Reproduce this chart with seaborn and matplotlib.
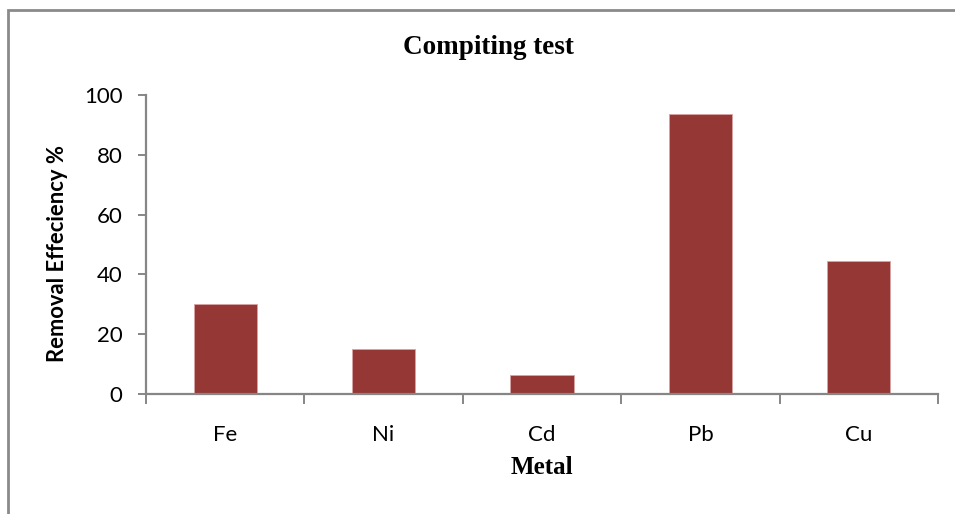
import matplotlib
matplotlib.use("Agg")
import matplotlib.pyplot as plt
from matplotlib.patches import Rectangle
from matplotlib.ticker import FixedLocator
import seaborn as sns
import pandas as pd

metals = ["Fe", "Ni", "Cd", "Pb", "Cu"]
efficiency = [30.0, 15.0, 6.4, 93.6, 44.4]
y_ticks = [0, 20, 40, 60, 80, 100]

sns.set_theme(style="white")
plt.rcParams["font.family"] = ["Lato", "DejaVu Sans"]
plt.rcParams.update({"text.color": "black", "axes.labelcolor": "black",
                     "xtick.color": "black", "ytick.color": "black"})

df = pd.DataFrame({"Metal": metals, "Removal": efficiency})

fig = plt.figure(figsize=(9.55, 5.14), dpi=100)
ax = fig.add_axes([146 / 955, 1 - 394 / 514, (938 - 146) / 955, (394 - 95) / 514])

sns.barplot(data=df, x="Metal", y="Removal", color="#953735", width=0.4,
            saturation=1, edgecolor="#d9a3a3", linewidth=0.6, ax=ax)

grey = "#868686"
ax.set_ylim(0, 100)
ax.set_xlim(-0.5, len(metals) - 0.5)
ax.set_yticks(y_ticks)
ax.set_yticklabels([str(t) for t in y_ticks])
for s in ["top", "right"]:
    ax.spines[s].set_visible(False)
for s in ["left", "bottom"]:
    ax.spines[s].set_color(grey)
    ax.spines[s].set_linewidth(1.6)

ax.tick_params(axis="y", which="major", direction="out", length=6, width=1.4,
               color=grey, labelcolor="black", labelsize=16, pad=11, left=True)
ax.tick_params(axis="x", which="major", length=0, labelsize=16, labelcolor="black",
               pad=22, bottom=True)
ax.xaxis.set_minor_locator(FixedLocator([i - 0.5 for i in range(len(metals) + 1)]))
ax.tick_params(axis="x", which="minor", direction="out", length=7, width=1.4,
               color=grey, bottom=True)

ax.set_ylabel("Removal Effeciency %", fontsize=15.8, fontweight="bold",
              color="black", labelpad=11)
ax.yaxis.label.set_y(0.47)
ax.set_xlabel("Metal", fontsize=18, fontweight="bold", color="black",
              family=["Liberation Serif", "DejaVu Serif"], labelpad=8)
fig.text(0.511, 1 - 47 / 514, "Compiting test", ha="center", va="center",
         fontsize=19.5, fontweight="bold", color="black",
         family=["Liberation Serif", "DejaVu Serif"])

# outer chart frame, open to the right and bottom
fig.patches.append(Rectangle((8 / 955, -0.1), 1.2, 1 - 10 / 514 + 0.1,
                             transform=fig.transFigure, fill=False,
                             edgecolor="#8a8a8a", linewidth=2.0, zorder=0))

fig.savefig("out.png", dpi=100)
